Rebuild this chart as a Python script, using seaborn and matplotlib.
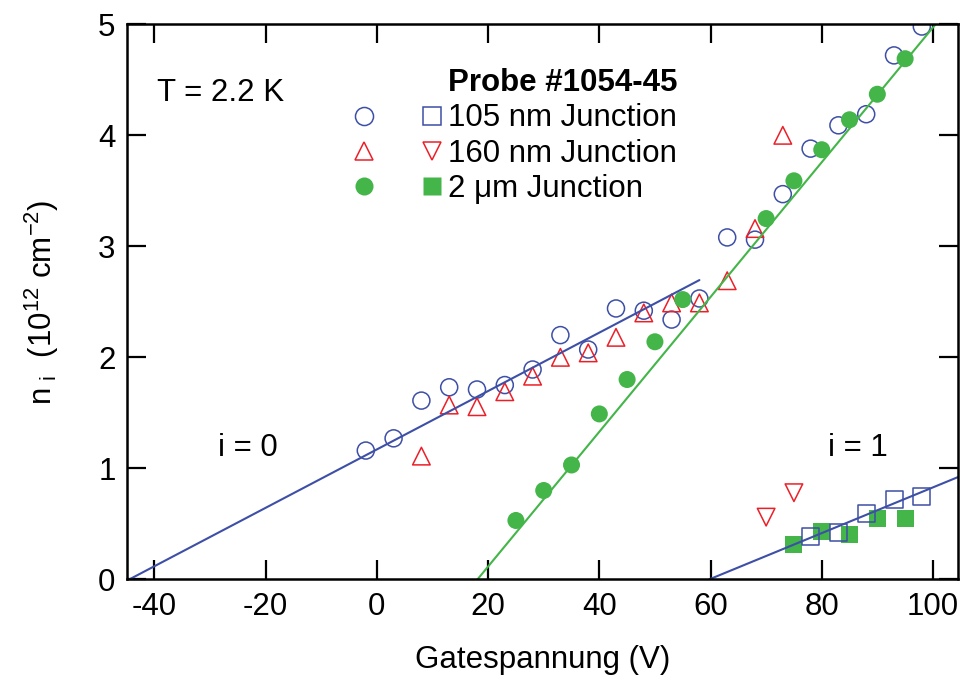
import numpy as np
import pandas as pd
import seaborn as sns
import matplotlib.pyplot as plt
from matplotlib.lines import Line2D
from matplotlib.legend_handler import HandlerTuple

# 105 nm junction, i = 0 (open circles) and i = 1 (open squares)
v_105_i0 = [-2, 3, 8, 13, 18, 23, 28, 33, 38, 43, 48, 53, 58, 63, 68, 73, 78, 83, 88, 93, 98]
n_105_i0 = [1.16, 1.27, 1.61, 1.73, 1.71, 1.75, 1.89, 2.20, 2.07, 2.44, 2.42,
            2.34, 2.53, 3.08, 3.06, 3.47, 3.88, 4.09, 4.19, 4.72, 4.98]
v_105_i1 = [78, 83, 88, 93, 98]
n_105_i1 = [0.39, 0.42, 0.59, 0.72, 0.75]

# 160 nm junction, i = 0 (up triangles) and i = 1 (down triangles)
v_160_i0 = [8, 13, 18, 23, 28, 33, 38, 43, 48, 53, 58, 63, 68, 73]
n_160_i0 = [1.11, 1.57, 1.555, 1.69, 1.83, 2.00, 2.04, 2.18, 2.40, 2.49, 2.49, 2.69, 3.16, 4.00]
v_160_i1 = [70, 75]
n_160_i1 = [0.56, 0.78]

# 2 um junction, i = 0 (filled circles) and i = 1 (filled squares)
v_2um_i0 = [25, 30, 35, 40, 45, 50, 55, 70, 75, 80, 85, 90, 95]
n_2um_i0 = [0.53, 0.80, 1.03, 1.49, 1.80, 2.14, 2.52, 3.25, 3.59, 3.87, 4.14, 4.37, 4.69]
v_2um_i1 = [75, 80, 85, 90, 95]
n_2um_i1 = [0.315, 0.435, 0.40, 0.55, 0.55]

# linear fits: zero crossing, slope, end of line (V)
fit_i0_small = (-44.5, 0.0263, 58.0)
fit_i0_2um = (18.1, 0.0607, 100.5)
fit_i1 = (59.8, 0.0206, 104.5)

blue = "#3d4fa6"
red = "#ec1f27"
green = "#43b549"

sns.set_theme(style="ticks")
plt.rcParams["font.family"] = ["Liberation Sans", "DejaVu Sans"]
plt.rcParams["mathtext.default"] = "regular"
plt.rcParams["axes.unicode_minus"] = False
plt.rcParams["text.color"] = "black"
plt.rcParams["axes.labelcolor"] = "black"

fig = plt.figure(figsize=(9.62, 6.77), dpi=100)
ax = fig.add_axes([0.1317, 0.1443, 0.8641, 0.8198])

# fit lines
for v0, k, v1, col in [(*fit_i0_small, blue), (*fit_i0_2um, green), (*fit_i1, blue)]:
    vv = np.array([v0, v1])
    sns.lineplot(x=vv, y=k * (vv - v0), color=col, lw=1.5, ax=ax)

# data points
sns.scatterplot(x=v_105_i0, y=n_105_i0, marker="o", s=150, color=blue,
                facecolor="none", edgecolor=blue, linewidth=1.1, ax=ax)
sns.scatterplot(x=v_160_i0, y=n_160_i0, marker="^", s=160, color=red,
                facecolor="none", edgecolor=red, linewidth=1.1, ax=ax)
sns.scatterplot(x=v_2um_i0, y=n_2um_i0, marker="o", s=150, color=green,
                edgecolor="none", linewidth=0, ax=ax)
sns.scatterplot(x=v_2um_i1, y=n_2um_i1, marker="s", s=150, color=green,
                edgecolor="none", linewidth=0, ax=ax)
sns.scatterplot(x=v_105_i1, y=n_105_i1, marker="s", s=150, color=blue,
                facecolor="none", edgecolor=blue, linewidth=1.1, ax=ax)
sns.scatterplot(x=v_160_i1, y=n_160_i1, marker="v", s=160, color=red,
                facecolor="none", edgecolor=red, linewidth=1.1, ax=ax)

ax.set_xlim(-45, 104.5)
ax.set_ylim(0, 5)
ax.set_xticks(np.arange(-40, 101, 20))
ax.set_yticks(np.arange(0, 6, 1))
for s in ax.spines.values():
    s.set_visible(True)
    s.set_linewidth(1.8)
    s.set_color("black")
ax.tick_params(direction="in", top=True, right=True, length=13.5, width=1.6,
               labelsize=22.5, colors="black")
ax.tick_params(axis="x", pad=9)
ax.tick_params(axis="y", pad=8)

ax.set_xlabel("Gatespannung (V)", fontsize=22.5, labelpad=17)
ax.set_ylabel(r"n$_{\ i}$  (10$^{12}$ cm$^{-2}$)", fontsize=22.5, labelpad=27)

ax.text(-39.5, 4.38, "T = 2.2 K", fontsize=22.5, va="center")
ax.text(-28.6, 1.18, "i = 0", fontsize=22.5, va="center")
ax.text(81.2, 1.18, "i = 1", fontsize=22.5, va="center")

ms = 13
handles = [
    (Line2D([], [], ls="none", marker="o", ms=ms, mfc="none", mec=blue, mew=1.1),
     Line2D([], [], ls="none", marker="s", ms=ms, mfc="none", mec=blue, mew=1.1)),
    (Line2D([], [], ls="none", marker="^", ms=ms, mfc="none", mec=red, mew=1.1),
     Line2D([], [], ls="none", marker="v", ms=ms, mfc="none", mec=red, mew=1.1)),
    (Line2D([], [], ls="none", marker="o", ms=ms, mfc=green, mec="none"),
     Line2D([], [], ls="none", marker="s", ms=ms, mfc=green, mec="none")),
]
labels = ["105 nm Junction", "160 nm Junction", "2 \u03bcm Junction"]
ax.legend(handles, labels, handler_map={tuple: HandlerTuple(ndivide=None, pad=1.65)},
          title="Probe #1054-45", title_fontproperties={"weight": "bold", "size": 22.5},
          alignment="right", frameon=False, loc="upper left",
          bbox_to_anchor=(0.2758, 0.921), borderaxespad=0, borderpad=0,
          handlelength=2.7, handletextpad=0.26, labelspacing=0.17, fontsize=22.5)

fig.savefig("out.png", dpi=100)
